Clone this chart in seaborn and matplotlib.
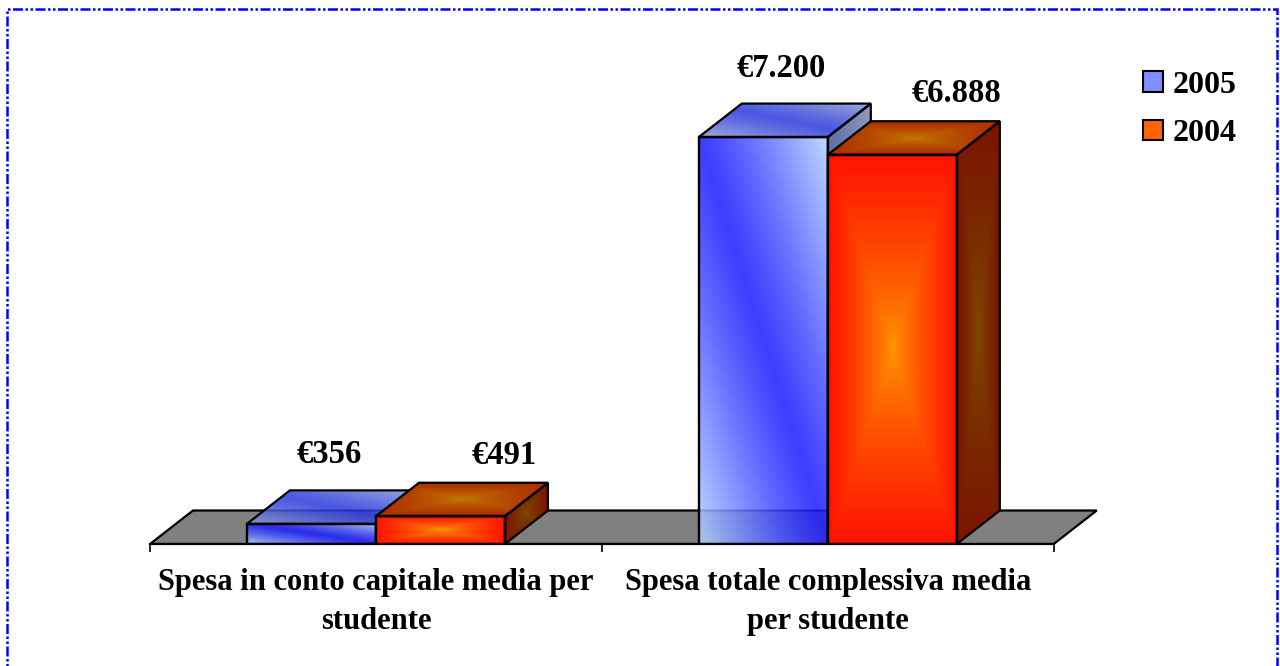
import numpy as np
import pandas as pd
import matplotlib.pyplot as plt
import seaborn as sns
from matplotlib.patches import Polygon, Rectangle, Patch
from matplotlib.colors import to_rgb

# dati
categorie = ["Spesa in conto capitale media per\nstudente",
             "Spesa totale complessiva media\nper studente"]
anni = ["2005", "2004"]
spesa_2005 = [356, 7200]
spesa_2004 = [491, 6888]

df = pd.DataFrame({
    "categoria": categorie * 2,
    "anno": ["2005"] * len(categorie) + ["2004"] * len(categorie),
    "spesa": spesa_2005 + spesa_2004,
})

# stile delle facce 3D (colori gradiente, trasparenza, offset etichette in px)
stile = {
    "2005": dict(fronte=("#1c1cff", "#b4d4ff"), sopra=("#2a3ae0", "#8e9ed0"),
                 lato=("#4a5a96", "#7e8cb4"), alpha=0.85, etichetta=(18, 69),
                 legenda="#7f8dff"),
    "2004": dict(fronte=("#ff9a00", "#ff1200"), sopra=("#c47c00", "#ac2a00"),
                 lato=("#7c4c00", "#7a1400"), alpha=1.0, etichetta=(64, 61),
                 legenda="#ff6400"),
}
profondita_px = (43, 33.5)


def diagonale(U, V):
    return np.clip(np.abs(U + V - 1), 0, 1) ** 1.2


def centro(U, V):
    return np.maximum(np.abs(2 * U - 1), np.abs(2 * V - 1)) ** 0.75


def faccia(ax, verts, colori, forma, z, alpha):
    verts = np.asarray(verts)
    bordo = Polygon(verts, closed=True, facecolor="none", edgecolor="black",
                    lw=1.6, zorder=z + 0.5, joinstyle="miter")
    ax.add_patch(bordo)
    U, V = np.meshgrid(np.linspace(0, 1, 120), np.linspace(0, 1, 120))
    t = forma(U, V)[..., None]
    c1, c2 = np.array(to_rgb(colori[0])), np.array(to_rgb(colori[1]))
    img = c1 + t * (c2 - c1)
    im = ax.imshow(img, extent=(verts[:, 0].min(), verts[:, 0].max(),
                                verts[:, 1].min(), verts[:, 1].max()),
                   origin="lower", aspect="auto", interpolation="bilinear",
                   zorder=z, alpha=alpha)
    im.set_clip_path(bordo)


sns.set_theme(style="white")
plt.rcParams["font.family"] = ["Liberation Serif", "DejaVu Serif"]
plt.rcParams["font.weight"] = "bold"
plt.rcParams["text.color"] = "black"
plt.rcParams["xtick.color"] = "black"
plt.rcParams["xtick.labelcolor"] = "black"

fig = plt.figure(figsize=(12.8, 6.66), dpi=100)
ax = fig.add_axes([150 / 1280, 122 / 666, 967 / 1280, 503 / 666])
ax.set_facecolor("none")

sns.barplot(data=df, x="categoria", y="spesa", hue="anno", hue_order=anni,
            width=0.571, errorbar=None, saturation=1,
            palette=[stile[a]["legenda"] for a in anni], legend=False, ax=ax)

xlim, ylim = (-0.5, 1.64), (0, 8900)
ax.set_xlim(xlim)
ax.set_ylim(ylim)

# profondita in unita dati
ddx, ddy = ax.transData.inverted().transform(
    ax.transData.transform((0, 0)) + np.array(profondita_px))

# pavimento
n = len(categorie)
pavimento = Polygon([(-0.5, 0), (n - 0.5, 0), (n - 0.5 + ddx, ddy), (-0.5 + ddx, ddy)],
                    closed=True, facecolor="#808080", edgecolor="black", lw=1.6,
                    zorder=1, joinstyle="miter")
ax.add_patch(pavimento)

barre = []
for anno, cont in zip(anni, ax.containers):
    for barra in cont:
        barre.append((barra, anno))
barre.sort(key=lambda b: b[0].get_x())

for k, (barra, anno) in enumerate(barre):
    s = stile[anno]
    z = 2 + k
    x0, w, h = barra.get_x(), barra.get_width(), barra.get_height()
    barra.set_facecolor("none")
    barra.set_edgecolor("black")
    barra.set_linewidth(1.6)
    barra.set_zorder(z + 0.5)
    fronte = [(x0, 0), (x0 + w, 0), (x0 + w, h), (x0, h)]
    sopra = [(x0, h), (x0 + w, h), (x0 + w + ddx, h + ddy), (x0 + ddx, h + ddy)]
    lato = [(x0 + w, 0), (x0 + w + ddx, ddy), (x0 + w + ddx, h + ddy), (x0 + w, h)]
    forma = diagonale if anno == "2005" else centro
    faccia(ax, fronte, s["fronte"], forma, z, s["alpha"])
    faccia(ax, sopra, s["sopra"], forma, z + 0.1, s["alpha"])
    faccia(ax, lato, s["lato"], forma, z + 0.2, s["alpha"])
    testo = "€" + f"{h:,.0f}".replace(",", ".")
    ox, oy = s["etichetta"]
    ax.annotate(testo, xy=(x0 + w / 2, h), xytext=(ox * 0.72, oy * 0.72),
                textcoords="offset points", ha="center", va="center",
                fontsize=23.5, fontweight="bold", color="black", zorder=50)

ax.set_xlim(xlim)
ax.set_ylim(ylim)

# assi
for lato_sp in ["top", "right", "left"]:
    ax.spines[lato_sp].set_visible(False)
ax.spines["bottom"].set_bounds(-0.5, n - 0.5)
ax.spines["bottom"].set_color("black")
ax.spines["bottom"].set_linewidth(1.6)
ax.set_yticks([])
ax.set_xlabel("")
ax.set_ylabel("")
ax.set_xticks(range(n), categorie, fontsize=22, fontweight="bold", linespacing=1.45,
              color="black")
ax.set_xticks(np.arange(n + 1) - 0.5, minor=True)
ax.tick_params(axis="x", which="major", length=0, pad=17, bottom=True)
ax.tick_params(axis="x", which="minor", length=5.8, width=1.2, color="black",
               direction="out", bottom=True)

handles = [Patch(facecolor=stile[a]["legenda"], edgecolor="black", linewidth=1.5, label=a)
           for a in anni]
fig.legend(handles=handles, loc="upper left", bbox_to_anchor=(1143 / 1280, 1 - 71 / 666),
           frameon=False, labelcolor="black",
           prop=dict(family="Liberation Serif", weight="bold", size=23),
           handlelength=0.62, handleheight=0.62, handletextpad=0.3, labelspacing=0.6,
           borderpad=0, borderaxespad=0)

# cornice tratteggiata
fig.add_artist(Rectangle((7 / 1280, -0.01), 1270 / 1280, 0.9965, transform=fig.transFigure,
                         fill=False, edgecolor="blue", lw=1.8,
                         linestyle=(0, (4, 1, 1, 1, 1, 1))))

fig.savefig("out.png", dpi=100)
